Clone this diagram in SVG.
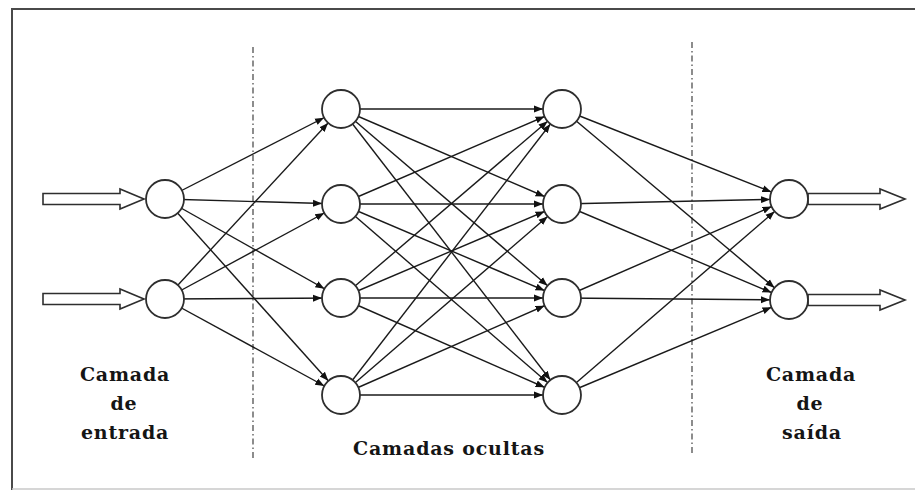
<svg xmlns="http://www.w3.org/2000/svg" width="915" height="492" viewBox="0 0 915 492">
<style>
.frame{stroke:#4a4a4a;stroke-width:2;fill:none}
.frame2{stroke:#c8c8c8;stroke-width:1.5;fill:none}
.sep{stroke:#505050;stroke-width:1.3;stroke-dasharray:6 3 1.5 3;fill:none}
.edge{stroke:#1a1a1a;stroke-width:1.4;fill:none;marker-end:url(#ah)}
.node{fill:#fff;stroke:#2e2e2e;stroke-width:1.8}
.io{fill:#fff;stroke:#2e2e2e;stroke-width:1.6}
.lbl{font-family:"DejaVu Serif","Liberation Serif",serif;font-weight:bold;font-size:19px;letter-spacing:0.8px;fill:#151515;text-anchor:middle}
</style>
<defs>
<marker id="ah" markerUnits="userSpaceOnUse" markerWidth="30" markerHeight="10" viewBox="0 0 30 10" refX="28" refY="5" orient="auto">
<path d="M0,1.5 L9,5 L0,8.5 z" fill="#111"/>
</marker>
</defs>
<rect width="915" height="492" fill="#fff"/>
<g id="frame">
<line class="frame" x1="11" y1="9" x2="915" y2="9"/>
<line class="frame" x1="12" y1="9" x2="12" y2="490"/>
<line class="frame2" x1="12" y1="489" x2="915" y2="489"/>
</g>
<g id="separators">
<line class="sep" x1="253" y1="47" x2="253" y2="458"/>
<line class="sep" x1="692" y1="42" x2="692" y2="455"/>
</g>
<g id="connectors">
<line class="edge" x1="165" y1="199" x2="341" y2="109"/>
<line class="edge" x1="165" y1="199" x2="341" y2="204"/>
<line class="edge" x1="165" y1="199" x2="341" y2="298"/>
<line class="edge" x1="165" y1="199" x2="341" y2="395"/>
<line class="edge" x1="165" y1="299" x2="341" y2="109"/>
<line class="edge" x1="165" y1="299" x2="341" y2="204"/>
<line class="edge" x1="165" y1="299" x2="341" y2="298"/>
<line class="edge" x1="165" y1="299" x2="341" y2="395"/>
<line class="edge" x1="341" y1="109" x2="562" y2="109"/>
<line class="edge" x1="341" y1="109" x2="562" y2="204"/>
<line class="edge" x1="341" y1="109" x2="562" y2="298"/>
<line class="edge" x1="341" y1="109" x2="562" y2="395"/>
<line class="edge" x1="341" y1="204" x2="562" y2="109"/>
<line class="edge" x1="341" y1="204" x2="562" y2="204"/>
<line class="edge" x1="341" y1="204" x2="562" y2="298"/>
<line class="edge" x1="341" y1="204" x2="562" y2="395"/>
<line class="edge" x1="341" y1="298" x2="562" y2="109"/>
<line class="edge" x1="341" y1="298" x2="562" y2="204"/>
<line class="edge" x1="341" y1="298" x2="562" y2="298"/>
<line class="edge" x1="341" y1="298" x2="562" y2="395"/>
<line class="edge" x1="341" y1="395" x2="562" y2="109"/>
<line class="edge" x1="341" y1="395" x2="562" y2="204"/>
<line class="edge" x1="341" y1="395" x2="562" y2="298"/>
<line class="edge" x1="341" y1="395" x2="562" y2="395"/>
<line class="edge" x1="562" y1="109" x2="789" y2="199"/>
<line class="edge" x1="562" y1="109" x2="789" y2="300"/>
<line class="edge" x1="562" y1="204" x2="789" y2="199"/>
<line class="edge" x1="562" y1="204" x2="789" y2="300"/>
<line class="edge" x1="562" y1="298" x2="789" y2="199"/>
<line class="edge" x1="562" y1="298" x2="789" y2="300"/>
<line class="edge" x1="562" y1="395" x2="789" y2="199"/>
<line class="edge" x1="562" y1="395" x2="789" y2="300"/>
</g>
<g id="input-arrow-1"><polygon class="io" points="43,193.5 120,193.5 120,189 144,199 120,209 120,204.5 43,204.5"/></g>
<g id="input-arrow-2"><polygon class="io" points="43,293.5 120,293.5 120,289 144,299 120,309 120,304.5 43,304.5"/></g>
<g id="output-arrow-1"><polygon class="io" points="808,193.5 880,193.5 880,189 905,199 880,209 880,204.5 808,204.5"/></g>
<g id="output-arrow-2"><polygon class="io" points="808,294.5 880,294.5 880,290 905,300 880,310 880,305.5 808,305.5"/></g>
<g id="in1"><circle class="node" cx="165" cy="199" r="19"/></g>
<g id="in2"><circle class="node" cx="165" cy="299" r="19"/></g>
<g id="h1a"><circle class="node" cx="341" cy="109" r="19"/></g>
<g id="h1b"><circle class="node" cx="341" cy="204" r="19"/></g>
<g id="h1c"><circle class="node" cx="341" cy="298" r="19"/></g>
<g id="h1d"><circle class="node" cx="341" cy="395" r="19"/></g>
<g id="h2a"><circle class="node" cx="562" cy="109" r="19"/></g>
<g id="h2b"><circle class="node" cx="562" cy="204" r="19"/></g>
<g id="h2c"><circle class="node" cx="562" cy="298" r="19"/></g>
<g id="h2d"><circle class="node" cx="562" cy="395" r="19"/></g>
<g id="out1"><circle class="node" cx="789" cy="199" r="19"/></g>
<g id="out2"><circle class="node" cx="789" cy="300" r="19"/></g>
<g id="label-input">
<text class="lbl" x="125" y="381">Camada</text>
<text class="lbl" x="124" y="410">de</text>
<text class="lbl" x="125" y="439">entrada</text>
</g>
<g id="label-hidden">
<text class="lbl" x="449" y="455">Camadas ocultas</text>
</g>
<g id="label-output">
<text class="lbl" x="811" y="381">Camada</text>
<text class="lbl" x="810" y="410">de</text>
<text class="lbl" x="812" y="439">saída</text>
</g>
</svg>
